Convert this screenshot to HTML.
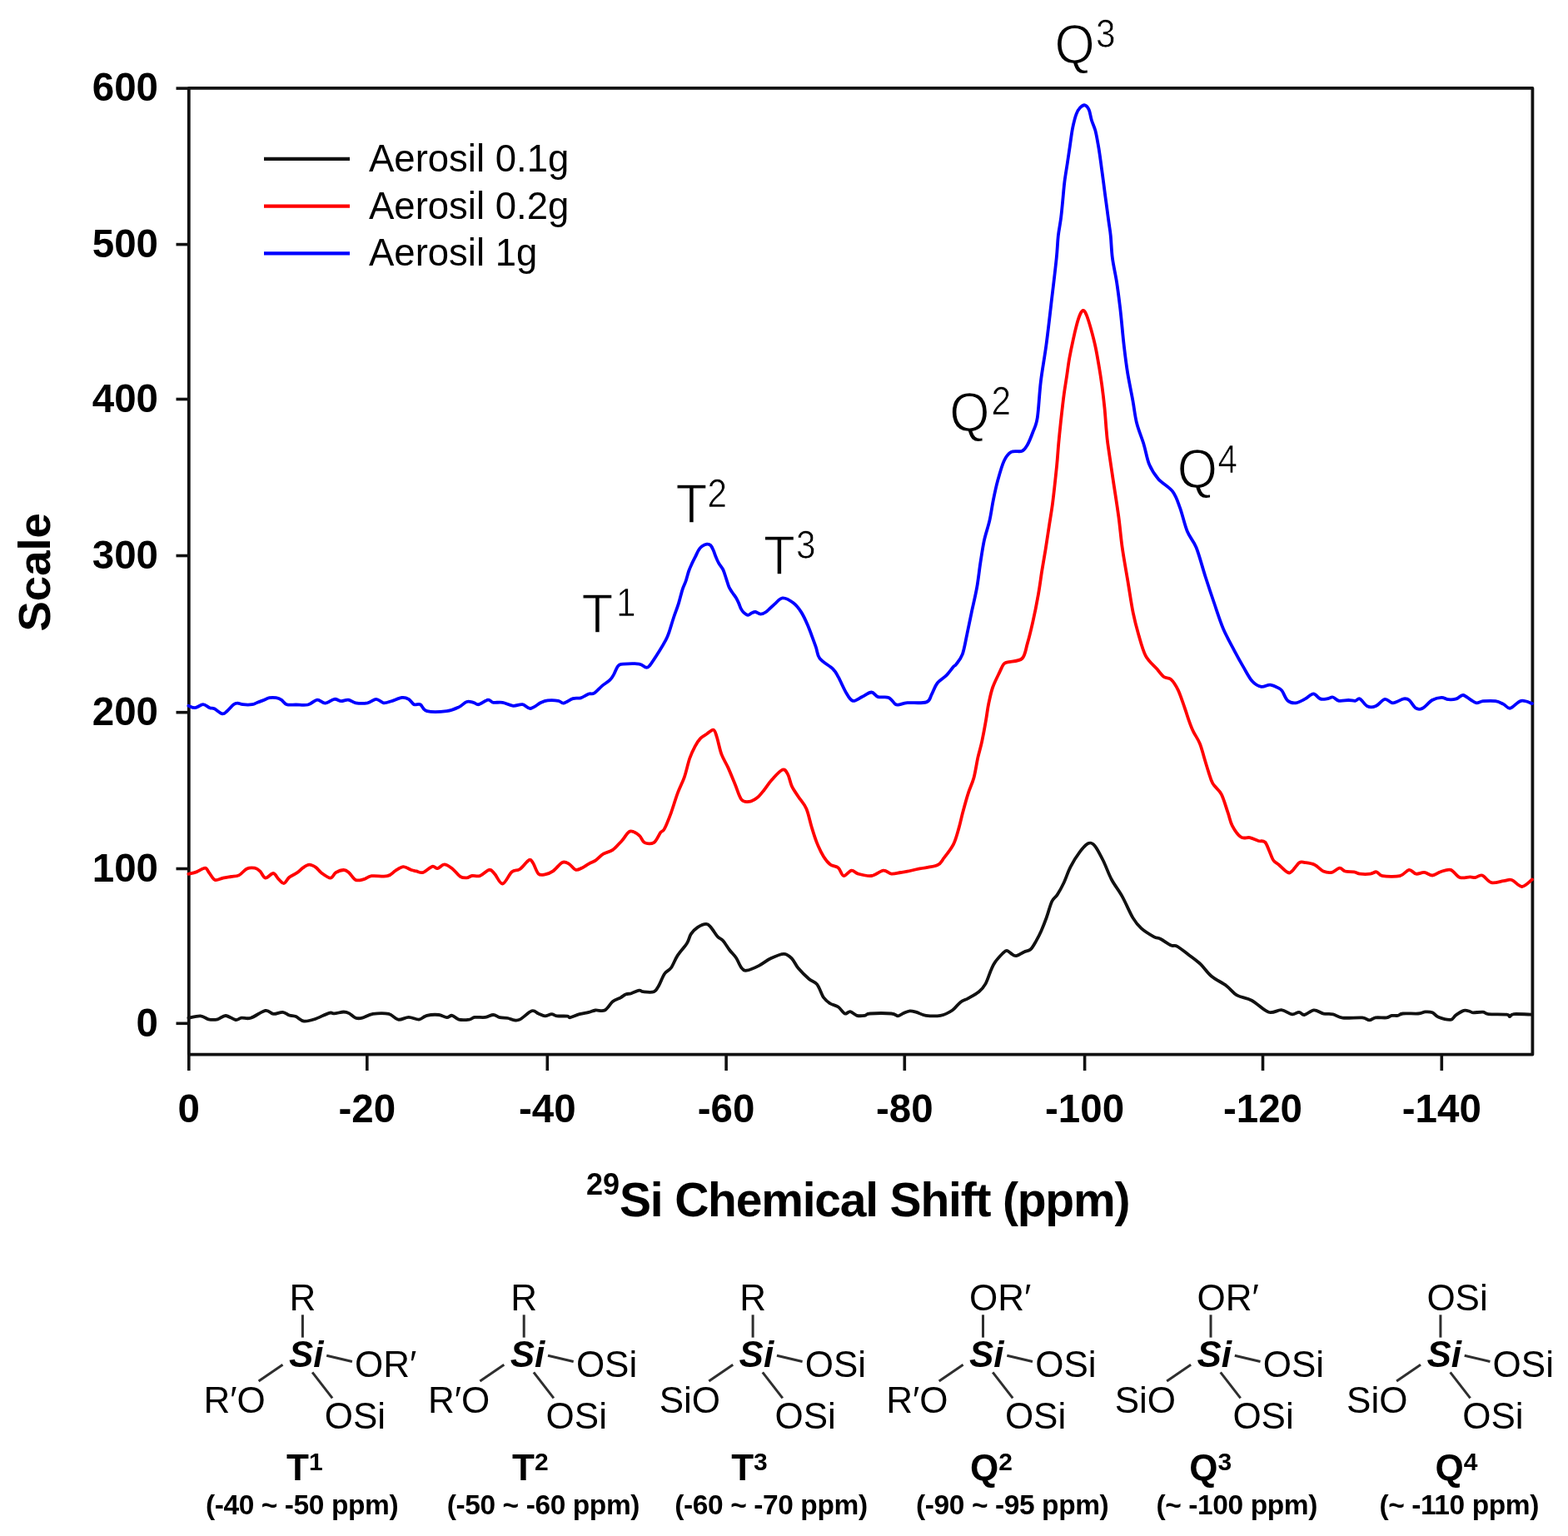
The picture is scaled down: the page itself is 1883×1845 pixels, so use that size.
<!DOCTYPE html>
<html><head><meta charset="utf-8"><title>29Si NMR</title>
<style>
html,body{margin:0;padding:0;background:#fff;}
svg{display:block;}
text{font-family:"Liberation Sans",Arial,sans-serif;fill:#000;}
.tk{font-size:47.5px;font-weight:bold;}
.lg{font-size:45.5px;}
.ax{font-size:57px;font-weight:bold;}
.pk{font-size:62px;stroke:#fff;stroke-width:1.2px;}
.pks{font-size:45px;stroke:#fff;stroke-width:0.7px;}
.st{font-size:44px;}
.si{font-size:44px;font-weight:bold;font-style:italic;}
.lb{font-size:44px;font-weight:bold;}
.lbs{font-size:30px;}
.rg{font-size:33.5px;font-weight:bold;letter-spacing:-0.4px;}
</style></head><body>
<svg width="1883" height="1845" viewBox="0 0 1883 1845">
<rect width="1883" height="1845" fill="#fff"/>
<rect x="226.8" y="105.9" width="1613.6" height="1160.7" fill="none" stroke="#111" stroke-width="3.8" stroke-linejoin="round"/>
<line x1="211.5" y1="1229.3" x2="226.8" y2="1229.3" stroke="#111" stroke-width="3.6"/>
<text class="tk" x="190" y="1244.6" text-anchor="end">0</text>
<line x1="211.5" y1="1043.5" x2="226.8" y2="1043.5" stroke="#111" stroke-width="3.6"/>
<text class="tk" x="190" y="1058.8" text-anchor="end">100</text>
<line x1="211.5" y1="855.7" x2="226.8" y2="855.7" stroke="#111" stroke-width="3.6"/>
<text class="tk" x="190" y="871.0" text-anchor="end">200</text>
<line x1="211.5" y1="667.5" x2="226.8" y2="667.5" stroke="#111" stroke-width="3.6"/>
<text class="tk" x="190" y="682.8" text-anchor="end">300</text>
<line x1="211.5" y1="479.5" x2="226.8" y2="479.5" stroke="#111" stroke-width="3.6"/>
<text class="tk" x="190" y="494.8" text-anchor="end">400</text>
<line x1="211.5" y1="293.6" x2="226.8" y2="293.6" stroke="#111" stroke-width="3.6"/>
<text class="tk" x="190" y="308.9" text-anchor="end">500</text>
<line x1="211.5" y1="106.1" x2="226.8" y2="106.1" stroke="#111" stroke-width="3.6"/>
<text class="tk" x="190" y="121.4" text-anchor="end">600</text>
<line x1="226.8" y1="1266.6" x2="226.8" y2="1286" stroke="#111" stroke-width="3.6"/>
<text class="tk" x="226.8" y="1348" text-anchor="middle">0</text>
<line x1="440.8" y1="1266.6" x2="440.8" y2="1286" stroke="#111" stroke-width="3.6"/>
<text class="tk" x="440.8" y="1348" text-anchor="middle">-20</text>
<line x1="657.3" y1="1266.6" x2="657.3" y2="1286" stroke="#111" stroke-width="3.6"/>
<text class="tk" x="657.3" y="1348" text-anchor="middle">-40</text>
<line x1="872.1" y1="1266.6" x2="872.1" y2="1286" stroke="#111" stroke-width="3.6"/>
<text class="tk" x="872.1" y="1348" text-anchor="middle">-60</text>
<line x1="1086.3" y1="1266.6" x2="1086.3" y2="1286" stroke="#111" stroke-width="3.6"/>
<text class="tk" x="1086.3" y="1348" text-anchor="middle">-80</text>
<line x1="1302.6" y1="1266.6" x2="1302.6" y2="1286" stroke="#111" stroke-width="3.6"/>
<text class="tk" x="1302.6" y="1348" text-anchor="middle">-100</text>
<line x1="1516.5" y1="1266.6" x2="1516.5" y2="1286" stroke="#111" stroke-width="3.6"/>
<text class="tk" x="1516.5" y="1348" text-anchor="middle">-120</text>
<line x1="1731.3" y1="1266.6" x2="1731.3" y2="1286" stroke="#111" stroke-width="3.6"/>
<text class="tk" x="1731.3" y="1348" text-anchor="middle">-140</text>
<path d="M226.4 847.8C227.7 848.2 231.4 850.5 234.3 850.2C237.2 849.9 241.0 846.2 243.9 846.2C246.8 846.2 249.7 849.4 251.9 850.2C254.2 851.1 254.9 850.1 257.4 851.3C259.9 852.5 264.5 856.9 267.0 857.4C269.5 857.9 270.4 856.1 272.6 854.2C274.9 852.3 278.4 847.8 280.5 846.2C282.6 844.6 283.4 844.6 285.3 844.6C287.2 844.6 288.8 845.9 291.7 846.2C294.6 846.5 299.9 846.6 302.8 846.2C305.7 845.8 307.1 844.6 309.2 843.8C311.3 843.0 313.2 842.3 315.6 841.4C318.0 840.5 321.0 838.7 323.6 838.2C326.2 837.7 329.1 837.8 331.5 838.2C333.9 838.6 335.8 839.3 337.9 840.6C340.0 841.9 341.4 845.2 344.3 846.2C347.2 847.2 351.1 846.5 355.4 846.5C359.6 846.5 365.6 847.5 369.8 846.5C374.1 845.5 377.4 840.9 380.9 840.6C384.3 840.3 387.1 844.7 390.5 844.6C393.9 844.5 398.4 840.2 401.6 839.8C404.8 839.4 406.8 842.1 409.6 842.2C412.4 842.3 415.4 840.2 418.3 840.6C421.2 841.0 423.2 843.7 427.1 844.3C431.0 844.9 437.3 845.0 441.4 844.3C445.5 843.5 448.6 839.8 451.8 839.8C455.0 839.8 457.6 843.9 460.6 844.3C463.7 844.7 466.4 843.3 470.1 842.2C473.8 841.1 479.4 838.3 482.9 837.9C486.3 837.5 488.4 838.4 490.8 839.8C493.2 841.2 494.9 845.1 497.2 846.2C499.5 847.3 502.2 844.9 504.8 846.2C507.4 847.5 507.4 852.9 512.7 854.2C518.0 855.5 530.2 855.0 536.6 854.2C543.0 853.4 547.0 851.3 551.0 849.4C555.0 847.5 557.6 843.9 560.5 843.0C563.4 842.1 566.1 843.3 568.5 843.8C570.9 844.3 572.0 846.7 574.9 846.2C577.8 845.7 583.1 841.0 586.0 840.6C588.9 840.2 589.5 843.3 592.4 843.8C595.3 844.3 599.6 843.1 603.6 843.8C607.6 844.5 612.3 847.4 616.3 847.8C620.3 848.2 623.9 845.7 627.4 846.2C630.9 846.7 633.3 851.4 637.0 851.0C640.7 850.6 646.3 845.4 649.8 843.8C653.2 842.2 654.2 841.7 657.7 841.4C661.2 841.1 667.3 841.3 670.5 841.8C673.7 842.3 673.9 845.0 676.8 844.6C679.7 844.2 684.5 840.2 688.0 839.1C691.5 838.0 694.3 839.2 697.5 838.3C700.7 837.4 704.4 834.4 707.1 833.5C709.8 832.6 710.9 834.3 713.5 832.7C716.1 831.1 719.8 826.6 723.0 823.9C726.2 821.2 730.2 819.1 732.6 816.7C735.0 814.3 735.8 812.4 737.4 809.6C739.0 806.8 740.4 802.0 742.2 800.0C744.1 798.0 744.3 798.0 748.5 797.6C752.7 797.2 763.1 796.9 767.6 797.6C772.1 798.3 773.5 801.3 775.6 801.6C777.7 801.9 777.8 802.4 780.4 799.2C783.0 796.0 788.3 787.6 791.5 782.5C794.7 777.4 797.6 772.4 799.6 768.6C801.6 764.9 801.7 764.5 803.3 760.0C804.9 755.5 807.1 747.4 809.1 741.5C811.1 735.6 813.3 730.1 815.0 724.6C816.7 719.1 818.1 712.6 819.5 708.3C820.9 703.9 822.1 702.3 823.4 698.5C824.7 694.7 826.0 689.2 827.3 685.5C828.6 681.8 829.9 679.2 831.2 676.4C832.5 673.6 833.8 671.2 835.1 668.6C836.4 666.0 837.7 662.8 839.0 660.8C840.3 658.8 841.3 657.5 842.9 656.3C844.5 655.1 847.1 653.9 848.8 653.7C850.5 653.5 852.0 653.8 853.3 655.0C854.6 656.2 855.5 658.4 856.6 660.8C857.7 663.2 858.7 666.7 859.8 669.3C860.9 671.9 861.7 673.9 863.1 676.4C864.5 678.9 866.8 681.1 868.3 684.2C869.8 687.4 871.0 691.8 872.2 695.3C873.4 698.8 874.2 702.3 875.4 705.0C876.6 707.7 877.9 709.3 879.3 711.5C880.7 713.7 882.6 715.8 883.9 718.0C885.2 720.2 886.2 722.4 887.2 724.6C888.2 726.8 888.8 729.3 889.8 731.1C890.8 732.9 891.6 734.3 893.0 735.6C894.4 736.9 896.6 738.8 898.2 738.9C899.8 739.0 901.3 736.9 902.8 736.3C904.3 735.6 905.6 734.8 907.3 735.0C909.0 735.2 911.1 737.6 913.2 737.6C915.3 737.6 917.2 737.0 920.0 735.0C922.8 733.0 926.9 728.4 930.2 725.6C933.5 722.8 936.1 718.7 939.8 718.4C943.5 718.1 948.8 721.2 952.5 724.0C956.2 726.8 959.2 730.6 962.1 735.1C965.0 739.6 967.1 744.2 970.0 751.1C972.9 758.0 977.2 770.0 979.6 776.6C982.0 783.2 981.0 786.4 984.4 790.9C987.8 795.4 996.6 799.9 1000.3 803.6C1004.0 807.3 1004.1 808.4 1006.7 813.2C1009.4 818.0 1013.3 827.5 1016.2 832.3C1019.1 837.1 1021.0 841.1 1024.2 841.9C1027.4 842.7 1031.6 838.8 1035.3 837.1C1039.0 835.4 1043.3 831.5 1046.5 831.5C1049.7 831.5 1051.0 836.0 1054.5 837.1C1058.0 838.2 1063.8 836.4 1067.2 837.9C1070.7 839.4 1073.1 844.5 1075.2 845.9C1077.3 847.3 1077.6 846.6 1080.0 846.3C1082.4 846.0 1084.4 844.7 1089.8 844.2C1095.2 843.7 1107.6 845.1 1112.5 843.4C1117.4 841.6 1116.8 837.5 1119.0 833.7C1121.2 829.9 1122.5 824.5 1125.5 820.7C1128.5 816.9 1133.7 814.2 1136.9 810.9C1140.2 807.6 1143.1 803.0 1145.0 800.8C1146.9 798.6 1146.5 800.4 1148.3 797.9C1150.1 795.4 1153.7 791.6 1155.9 785.6C1158.1 779.6 1159.5 770.1 1161.3 761.8C1163.1 753.5 1164.7 745.2 1166.7 735.8C1168.7 726.4 1171.4 715.5 1173.2 705.4C1175.0 695.3 1176.0 684.5 1177.5 675.1C1179.0 665.7 1180.1 657.4 1181.9 649.1C1183.7 640.8 1186.6 633.2 1188.4 625.2C1190.2 617.2 1191.1 609.4 1192.7 601.4C1194.3 593.4 1195.9 585.5 1198.1 577.5C1200.3 569.5 1203.0 559.5 1205.7 553.7C1208.4 547.9 1210.8 544.9 1214.4 542.9C1218.0 540.9 1224.2 543.2 1227.4 541.8C1230.7 540.3 1231.7 538.0 1233.9 534.2C1236.1 530.4 1238.4 524.4 1240.4 519.0C1242.4 513.6 1244.2 511.9 1245.8 501.7C1247.4 491.5 1248.1 472.4 1249.9 457.9C1251.7 443.4 1254.2 430.8 1256.4 414.5C1258.6 398.2 1260.9 377.7 1262.9 360.3C1265.0 342.9 1267.4 322.9 1268.7 310.1C1270.0 297.3 1269.9 291.6 1270.8 283.5C1271.7 275.4 1273.2 269.0 1274.1 261.8C1275.0 254.6 1275.6 247.4 1276.3 240.2C1277.0 233.0 1277.5 225.7 1278.4 218.5C1279.3 211.3 1280.6 204.0 1281.7 196.8C1282.8 189.6 1283.8 182.3 1284.9 175.1C1286.0 167.9 1286.9 159.7 1288.2 153.4C1289.5 147.1 1291.0 141.1 1292.5 137.1C1294.0 133.1 1295.2 131.3 1296.9 129.5C1298.6 127.7 1301.0 125.9 1302.8 126.3C1304.6 126.7 1306.3 128.6 1307.7 131.7C1309.1 134.8 1309.7 140.5 1311.0 144.7C1312.3 148.8 1314.0 151.9 1315.3 156.6C1316.6 161.3 1317.7 168.0 1318.6 172.9C1319.5 177.8 1320.0 181.0 1320.7 185.9C1321.4 190.8 1322.2 196.8 1322.9 202.2C1323.6 207.6 1324.4 213.1 1325.1 218.5C1325.8 223.9 1326.5 229.3 1327.2 234.7C1327.9 240.1 1328.7 245.6 1329.4 251.0C1330.1 256.4 1330.9 261.9 1331.6 267.3C1332.3 272.7 1333.1 276.4 1333.8 283.5C1334.5 290.6 1334.7 300.9 1335.9 310.1C1337.1 319.3 1339.4 328.4 1341.0 338.6C1342.6 348.8 1343.8 358.5 1345.3 371.1C1346.8 383.8 1348.2 401.8 1349.7 414.5C1351.2 427.2 1352.2 435.9 1354.0 447.1C1355.8 458.3 1358.7 471.6 1360.5 481.8C1362.3 492.0 1362.9 499.5 1365.1 508.2C1367.3 516.9 1371.2 525.9 1373.7 534.2C1376.2 542.5 1377.3 551.2 1380.2 558.1C1383.1 565.0 1386.4 570.0 1391.1 575.4C1395.8 580.8 1404.1 584.8 1408.4 590.6C1412.7 596.4 1414.2 602.2 1417.1 610.1C1420.0 618.0 1422.5 630.3 1425.8 638.3C1429.0 646.2 1433.0 648.8 1436.6 657.8C1440.2 666.8 1443.9 681.3 1447.5 692.5C1451.1 703.7 1454.7 714.5 1458.3 725.0C1461.9 735.5 1465.1 746.0 1469.1 755.4C1473.1 764.8 1478.2 773.8 1482.2 781.4C1486.2 789.0 1489.4 794.8 1493.0 800.9C1496.6 807.0 1500.2 814.3 1503.8 818.3C1507.4 822.3 1511.1 824.1 1514.7 824.8C1518.3 825.5 1521.9 822.2 1525.5 822.6C1529.1 823.0 1534.0 825.7 1536.4 827.0C1538.8 828.3 1538.3 828.0 1540.0 830.5C1541.7 833.0 1543.8 839.5 1546.5 841.8C1549.2 844.1 1552.7 844.7 1556.2 844.3C1559.7 843.9 1564.0 841.2 1567.5 839.4C1571.0 837.6 1574.3 833.4 1577.3 833.4C1580.3 833.4 1582.7 838.4 1585.4 839.4C1588.1 840.4 1590.9 839.7 1593.4 839.4C1596.0 839.1 1598.3 837.1 1600.7 837.5C1603.1 837.9 1604.9 841.2 1608.0 841.8C1611.1 842.4 1616.2 841.0 1619.4 841.0C1622.7 841.0 1625.2 842.1 1627.5 841.8C1629.8 841.5 1630.7 838.3 1633.1 839.4C1635.5 840.5 1638.9 846.8 1642.0 848.3C1645.1 849.8 1648.3 849.7 1651.8 848.3C1655.3 846.9 1659.6 840.6 1663.1 839.9C1666.6 839.2 1669.0 844.4 1672.8 844.3C1676.6 844.2 1682.5 839.9 1685.8 839.4C1689.0 838.9 1689.9 839.1 1692.3 841.0C1694.7 842.9 1697.6 849.1 1700.3 850.7C1703.0 852.3 1705.2 852.3 1708.4 850.7C1711.7 849.1 1716.0 843.1 1719.8 841.0C1723.6 838.9 1727.9 837.9 1731.1 837.8C1734.3 837.7 1736.2 839.9 1739.2 840.2C1742.2 840.5 1745.9 840.3 1748.9 839.4C1751.9 838.5 1754.0 834.7 1757.0 835.0C1760.0 835.3 1764.1 839.5 1766.8 841.0C1769.5 842.5 1770.8 844.1 1773.2 844.3C1775.6 844.5 1777.5 842.6 1781.3 842.2C1785.1 841.9 1791.9 841.6 1795.9 842.2C1800.0 842.8 1802.6 844.5 1805.6 845.9C1808.6 847.3 1810.2 851.4 1813.7 850.7C1817.2 850.0 1822.3 842.7 1826.7 841.8C1831.1 840.9 1837.8 844.5 1840.0 845.1" fill="none" stroke="#0000ff" stroke-width="3.8" stroke-linejoin="round" stroke-linecap="round"/>
<path d="M226.4 1049.8C228.0 1049.4 232.6 1048.6 235.9 1047.4C239.2 1046.2 243.8 1042.6 246.3 1042.7C248.8 1042.8 249.1 1045.8 251.1 1048.2C253.1 1050.6 255.4 1055.9 258.2 1057.0C261.0 1058.1 264.6 1055.3 267.8 1054.6C271.0 1053.9 274.2 1053.5 277.4 1053.0C280.6 1052.5 283.7 1053.0 286.9 1051.4C290.1 1049.8 293.3 1045.0 296.5 1043.5C299.7 1042.0 303.4 1042.2 306.0 1042.7C308.6 1043.2 310.3 1044.6 312.4 1046.6C314.5 1048.6 316.1 1054.2 318.8 1054.6C321.5 1055.0 325.7 1048.7 328.3 1049.0C330.9 1049.3 332.6 1054.2 334.7 1056.2C336.8 1058.2 339.0 1061.4 341.1 1061.0C343.2 1060.6 344.8 1055.9 347.4 1053.8C350.0 1051.7 354.3 1050.0 357.0 1048.2C359.7 1046.4 361.0 1044.3 363.4 1042.7C365.8 1041.1 368.6 1038.8 371.3 1038.7C374.0 1038.6 376.9 1040.3 379.3 1041.9C381.7 1043.5 382.8 1046.1 385.7 1048.2C388.6 1050.3 393.9 1054.6 396.8 1054.6C399.7 1054.6 400.5 1049.8 403.2 1048.2C405.9 1046.6 410.1 1045.0 412.8 1045.0C415.5 1045.0 416.7 1046.2 419.1 1048.2C421.5 1050.2 424.2 1055.7 427.1 1057.0C430.0 1058.3 433.5 1057.0 436.7 1056.2C439.9 1055.4 441.4 1052.9 446.2 1052.2C451.0 1051.5 460.5 1053.3 465.3 1052.2C470.1 1051.1 471.7 1047.7 474.9 1045.8C478.1 1043.9 481.3 1041.2 484.5 1041.1C487.7 1041.0 491.4 1044.1 494.0 1045.0C496.6 1045.9 497.7 1045.9 500.0 1046.4C502.3 1046.9 504.8 1048.9 508.0 1048.0C511.2 1047.1 516.2 1041.6 519.1 1040.8C522.0 1040.0 523.1 1043.6 525.5 1043.2C527.9 1042.8 530.6 1038.4 533.5 1038.4C536.4 1038.4 539.8 1040.8 543.0 1043.2C546.2 1045.6 549.7 1050.9 552.6 1052.8C555.5 1054.7 558.1 1054.5 560.5 1054.4C562.9 1054.3 564.2 1052.4 566.9 1052.0C569.6 1051.6 573.0 1053.2 576.5 1052.0C580.0 1050.8 584.7 1045.2 587.6 1044.8C590.5 1044.4 591.3 1046.8 594.0 1049.6C596.7 1052.4 600.1 1061.9 603.6 1061.5C607.1 1061.1 611.2 1050.1 614.7 1047.2C618.2 1044.3 620.8 1046.4 624.3 1044.0C627.8 1041.6 632.8 1034.1 635.4 1032.9C638.0 1031.7 638.3 1034.0 640.2 1036.8C642.1 1039.6 644.2 1047.3 646.6 1049.6C649.0 1051.9 651.6 1050.9 654.5 1050.4C657.4 1049.9 660.6 1048.8 664.1 1046.4C667.6 1044.0 672.0 1037.5 675.2 1036.0C678.4 1034.5 680.5 1036.1 683.2 1037.6C685.9 1039.1 688.6 1044.0 691.2 1044.8C693.9 1045.6 696.5 1043.6 699.1 1042.4C701.8 1041.2 704.4 1039.1 707.1 1037.6C709.8 1036.1 712.2 1035.6 715.1 1033.6C718.0 1031.6 721.2 1027.8 724.6 1025.7C728.0 1023.6 732.1 1023.5 735.8 1020.9C739.5 1018.2 743.4 1013.5 746.9 1009.8C750.4 1006.1 753.0 999.7 756.5 998.6C760.0 997.5 764.7 1001.1 767.6 1003.4C770.5 1005.6 771.1 1010.6 774.0 1012.1C776.9 1013.6 782.0 1014.1 785.2 1012.1C788.4 1010.1 791.0 1003.0 793.1 1000.2C795.2 997.4 795.9 999.4 798.0 995.4C800.1 991.4 803.2 983.5 805.9 976.3C808.5 969.1 811.2 959.6 813.9 952.4C816.6 945.2 819.5 940.2 821.9 933.3C824.3 926.4 826.1 917.1 828.2 911.0C830.3 904.9 832.5 900.6 834.6 896.6C836.7 892.6 838.6 889.6 841.0 887.1C843.4 884.6 846.2 883.2 848.9 881.5C851.5 879.8 854.9 876.0 856.9 876.7C858.9 877.4 859.3 880.6 860.9 885.5C862.5 890.4 864.2 900.1 866.5 906.2C868.8 912.3 871.8 916.3 874.4 922.1C877.0 927.9 879.7 934.8 882.4 941.2C885.1 947.6 887.5 956.8 890.4 960.4C893.3 964.0 896.7 963.2 899.9 962.8C903.1 962.4 906.6 960.3 909.5 958.0C912.4 955.7 914.5 952.8 917.4 949.2C920.3 945.6 923.3 940.6 927.0 936.5C930.7 932.4 936.6 925.6 939.8 924.5C943.0 923.4 944.2 926.8 946.1 930.1C948.0 933.4 948.8 939.9 950.9 944.4C953.0 948.9 956.0 952.7 958.9 957.2C961.8 961.7 965.8 965.4 968.4 971.5C971.0 977.6 972.7 986.9 974.8 993.8C976.9 1000.7 978.8 1007.0 981.2 1012.9C983.6 1018.8 986.5 1024.7 989.1 1028.9C991.8 1033.2 994.2 1036.2 997.1 1038.4C1000.0 1040.7 1004.1 1040.1 1006.7 1042.4C1009.4 1044.7 1010.4 1051.5 1013.0 1052.0C1015.6 1052.5 1019.7 1046.0 1022.6 1045.6C1025.5 1045.2 1026.6 1048.5 1030.6 1049.6C1034.6 1050.7 1041.5 1052.7 1046.5 1052.0C1051.5 1051.3 1056.8 1046.0 1060.8 1045.6C1064.8 1045.2 1067.0 1049.2 1070.4 1049.6C1073.9 1050.0 1078.3 1048.5 1081.5 1048.0C1084.7 1047.5 1086.0 1047.5 1089.8 1046.7C1093.6 1045.9 1098.5 1044.6 1104.4 1043.4C1110.4 1042.2 1120.6 1041.5 1125.5 1039.3C1130.4 1037.1 1130.5 1034.6 1133.7 1030.4C1137.0 1026.2 1142.0 1020.1 1145.0 1014.1C1148.0 1008.1 1149.6 1001.1 1151.5 994.6C1153.4 988.1 1154.5 982.1 1156.4 975.1C1158.3 968.1 1160.7 959.2 1162.9 952.4C1165.1 945.6 1167.5 941.5 1169.4 934.5C1171.3 927.5 1172.7 917.4 1174.3 910.1C1175.9 902.8 1177.6 898.2 1179.2 890.6C1180.8 883.0 1182.8 872.2 1184.1 864.6C1185.4 857.0 1185.9 851.5 1187.3 845.0C1188.7 838.5 1190.0 831.7 1192.2 825.5C1194.4 819.3 1198.1 812.2 1200.3 807.6C1202.5 803.0 1203.6 799.9 1205.2 797.9C1206.8 795.9 1206.3 796.5 1210.0 795.4C1213.7 794.2 1223.4 794.8 1227.4 791.0C1231.4 787.2 1231.7 780.0 1233.9 772.6C1236.1 765.2 1238.2 756.4 1240.4 746.6C1242.6 736.9 1245.1 724.2 1246.9 714.1C1248.7 704.0 1249.8 694.9 1251.2 685.9C1252.7 676.9 1254.1 668.9 1255.6 659.9C1257.0 650.9 1258.5 641.1 1259.9 631.7C1261.3 622.3 1262.7 615.4 1264.2 603.5C1265.7 591.6 1267.8 571.8 1269.0 560.1C1270.2 548.4 1270.3 543.4 1271.2 533.5C1272.1 523.6 1273.4 510.9 1274.5 501.0C1275.6 491.1 1276.6 482.0 1277.7 473.9C1278.8 465.8 1279.9 459.4 1281.0 452.2C1282.1 445.0 1282.9 437.7 1284.2 430.5C1285.5 423.3 1287.1 415.5 1288.6 408.8C1290.0 402.1 1291.5 395.6 1292.9 390.4C1294.3 385.2 1295.9 380.3 1297.2 377.4C1298.5 374.5 1299.7 372.8 1301.0 373.0C1302.3 373.2 1303.2 374.6 1304.8 378.4C1306.3 382.2 1308.5 389.3 1310.3 395.8C1312.1 402.3 1314.1 409.9 1315.7 417.5C1317.3 425.1 1318.7 433.7 1320.0 441.3C1321.3 448.9 1322.2 454.9 1323.3 463.0C1324.4 471.1 1325.6 481.1 1326.5 490.2C1327.4 499.2 1328.0 510.1 1328.7 517.3C1329.4 524.5 1329.0 523.5 1330.4 533.5C1331.8 543.5 1334.7 563.0 1336.9 577.6C1339.1 592.2 1341.6 607.6 1343.4 621.0C1345.2 634.4 1345.9 645.1 1347.7 657.8C1349.5 670.4 1352.0 683.9 1354.2 696.9C1356.4 709.9 1358.5 725.1 1360.7 735.9C1362.9 746.7 1364.7 753.2 1367.2 761.9C1369.7 770.6 1372.3 781.0 1375.9 787.9C1379.5 794.8 1385.3 798.9 1388.9 803.1C1392.5 807.3 1394.7 810.7 1397.6 812.9C1400.5 815.1 1403.4 813.4 1406.3 816.1C1409.2 818.8 1412.2 823.5 1414.9 829.1C1417.6 834.8 1420.4 843.9 1422.6 850.0C1424.8 856.1 1426.1 860.8 1427.8 865.6C1429.5 870.4 1430.8 874.1 1433.0 878.6C1435.2 883.1 1438.6 887.7 1440.8 892.9C1443.0 898.1 1444.3 904.1 1446.0 909.8C1447.7 915.4 1449.5 921.6 1451.2 926.8C1452.9 932.0 1453.8 936.5 1456.4 941.1C1459.0 945.7 1463.8 948.2 1466.8 954.1C1469.8 960.0 1472.4 969.9 1474.6 976.2C1476.8 982.5 1477.2 986.9 1479.8 991.8C1482.4 996.7 1486.8 1003.1 1490.3 1005.5C1493.8 1007.9 1497.2 1005.4 1500.7 1006.1C1504.2 1006.9 1508.1 1009.1 1511.1 1010.0C1514.1 1010.9 1516.7 1009.3 1518.9 1011.3C1521.1 1013.2 1522.4 1018.0 1524.1 1021.7C1525.8 1025.4 1527.3 1030.7 1529.3 1033.5C1531.2 1036.3 1533.0 1036.3 1535.8 1038.7C1538.6 1041.1 1543.6 1046.5 1546.2 1047.8C1548.8 1049.1 1549.0 1048.5 1551.4 1046.5C1553.8 1044.5 1557.9 1037.8 1560.5 1036.1C1563.1 1034.4 1564.0 1035.7 1567.0 1036.1C1570.0 1036.5 1575.0 1037.0 1578.7 1038.7C1582.4 1040.4 1585.6 1045.0 1589.1 1046.5C1592.6 1048.0 1596.2 1048.5 1599.5 1047.8C1602.8 1047.1 1606.1 1042.8 1608.7 1042.6C1611.3 1042.4 1612.3 1045.7 1615.2 1046.5C1618.1 1047.3 1623.1 1046.8 1626.1 1047.3C1629.1 1047.8 1630.1 1049.3 1633.4 1049.7C1636.7 1050.1 1642.4 1050.1 1645.7 1049.7C1649.0 1049.3 1650.6 1046.9 1653.0 1047.3C1655.4 1047.7 1655.6 1051.3 1660.3 1052.1C1665.0 1052.9 1675.8 1053.3 1681.1 1052.1C1686.4 1050.9 1688.8 1045.2 1692.1 1044.8C1695.3 1044.4 1697.5 1049.2 1700.6 1049.7C1703.6 1050.2 1707.1 1047.6 1710.4 1047.9C1713.7 1048.2 1717.0 1051.6 1720.2 1051.5C1723.5 1051.4 1726.2 1048.4 1729.9 1047.3C1733.6 1046.2 1738.2 1043.7 1742.1 1044.8C1746.0 1045.9 1749.2 1052.6 1753.1 1054.0C1757.0 1055.4 1762.3 1053.4 1765.4 1053.4C1768.5 1053.4 1769.1 1054.3 1771.5 1054.0C1773.9 1053.7 1776.8 1050.5 1780.0 1051.5C1783.2 1052.5 1786.7 1059.0 1791.0 1060.1C1795.3 1061.2 1801.6 1058.7 1805.7 1058.2C1809.8 1057.7 1811.7 1055.9 1815.4 1057.0C1819.1 1058.1 1823.6 1065.1 1827.7 1065.0C1831.8 1064.9 1838.0 1057.8 1840.0 1056.4" fill="none" stroke="#ff0000" stroke-width="3.8" stroke-linejoin="round" stroke-linecap="round"/>
<path d="M226.4 1222.7C228.8 1222.3 236.7 1220.0 240.7 1220.3C244.7 1220.6 246.9 1223.6 250.3 1224.3C253.8 1225.0 257.9 1225.0 261.4 1224.3C264.8 1223.6 267.4 1219.9 271.0 1220.0C274.6 1220.1 279.7 1224.5 282.9 1225.0C286.1 1225.5 287.1 1223.1 290.1 1222.7C293.2 1222.3 296.4 1224.2 301.2 1222.7C306.0 1221.2 314.3 1214.7 318.8 1213.9C323.3 1213.1 324.9 1217.6 328.3 1217.9C331.8 1218.2 336.3 1215.5 339.5 1215.8C342.7 1216.1 344.8 1218.6 347.4 1219.5C350.0 1220.4 352.5 1219.9 355.4 1221.1C358.3 1222.3 361.3 1226.1 365.0 1226.6C368.7 1227.1 372.7 1225.9 377.7 1224.3C382.7 1222.7 391.2 1217.9 395.2 1216.8C399.2 1215.7 398.7 1217.6 401.6 1217.4C404.5 1217.2 409.9 1215.5 412.8 1215.5C415.7 1215.5 416.7 1215.9 419.1 1217.1C421.5 1218.3 424.4 1221.8 427.1 1222.7C429.8 1223.6 431.7 1223.5 435.1 1222.7C438.6 1221.9 442.5 1218.7 447.8 1217.9C453.1 1217.1 461.8 1216.8 466.9 1217.9C471.9 1219.0 474.1 1224.0 478.1 1224.7C482.1 1225.4 486.6 1221.9 490.8 1221.9C495.0 1221.9 499.5 1224.9 503.2 1224.6C506.9 1224.2 508.7 1220.7 512.7 1219.8C516.7 1218.9 523.1 1218.6 527.1 1219.0C531.1 1219.4 534.0 1222.1 536.6 1222.2C539.2 1222.3 540.6 1219.4 543.0 1219.8C545.4 1220.2 547.5 1223.8 551.0 1224.6C554.5 1225.4 560.5 1225.0 563.7 1224.6C566.9 1224.1 566.9 1222.4 570.1 1221.9C573.3 1221.5 579.1 1222.4 582.8 1221.9C586.5 1221.4 589.5 1219.0 592.4 1219.0C595.3 1219.0 597.5 1221.5 600.4 1222.2C603.3 1222.9 607.2 1222.5 609.9 1223.0C612.5 1223.5 613.9 1224.8 616.3 1225.1C618.7 1225.4 620.6 1226.4 624.3 1224.6C628.0 1222.8 634.9 1215.5 638.6 1214.3C642.3 1213.1 644.0 1216.5 646.6 1217.5C649.2 1218.5 651.9 1220.2 654.5 1220.3C657.1 1220.4 660.1 1218.2 662.5 1218.2C664.9 1218.2 665.7 1219.9 668.9 1220.3C672.1 1220.7 679.0 1220.3 681.6 1220.6C684.2 1220.9 682.4 1222.6 684.8 1222.2C687.2 1221.8 692.3 1219.2 696.0 1218.2C699.7 1217.2 703.9 1216.7 707.1 1215.9C710.3 1215.1 711.9 1213.9 715.1 1213.5C718.3 1213.1 722.8 1215.2 726.2 1213.5C729.7 1211.8 732.6 1205.6 735.8 1203.1C739.0 1200.6 742.6 1199.8 745.3 1198.3C747.9 1196.8 749.6 1195.1 751.7 1194.3C753.8 1193.5 755.5 1194.0 758.1 1193.2C760.8 1192.4 765.2 1189.9 767.6 1189.6C770.0 1189.3 769.5 1190.9 772.4 1191.2C775.3 1191.5 782.0 1192.5 785.2 1191.2C788.4 1189.9 789.4 1186.8 791.5 1183.2C793.6 1179.6 795.6 1173.2 798.0 1169.7C800.4 1166.2 803.2 1166.2 805.9 1162.5C808.5 1158.8 810.7 1152.3 813.9 1147.4C817.1 1142.5 822.4 1137.2 825.0 1133.0C827.6 1128.8 827.7 1125.1 829.8 1121.9C831.9 1118.7 834.8 1115.9 837.8 1113.9C840.8 1111.9 845.5 1109.9 848.1 1109.9C850.8 1109.9 851.4 1111.4 853.7 1113.9C856.0 1116.4 859.3 1122.3 861.7 1125.0C864.1 1127.7 865.7 1127.1 868.1 1129.8C870.5 1132.5 873.4 1137.5 876.0 1141.0C878.6 1144.5 881.6 1146.9 884.0 1150.5C886.4 1154.1 888.3 1160.0 890.4 1162.5C892.5 1165.0 893.2 1166.1 896.7 1165.7C900.2 1165.3 906.3 1162.5 911.1 1160.1C915.9 1157.7 920.4 1153.7 925.4 1151.3C930.4 1148.9 937.0 1145.8 941.3 1145.8C945.5 1145.8 948.0 1148.4 950.9 1151.3C953.8 1154.2 955.4 1159.2 958.9 1163.3C962.4 1167.4 967.9 1172.8 971.6 1176.0C975.3 1179.2 978.3 1178.7 981.2 1182.4C984.1 1186.1 986.5 1194.5 989.1 1198.3C991.8 1202.1 994.2 1203.6 997.1 1205.5C1000.0 1207.4 1003.8 1207.5 1006.7 1209.5C1009.6 1211.5 1012.2 1216.6 1014.6 1217.5C1017.0 1218.4 1018.6 1214.7 1021.0 1215.1C1023.4 1215.5 1026.1 1219.0 1029.0 1219.8C1031.9 1220.6 1035.8 1220.2 1038.5 1219.8C1041.2 1219.4 1039.6 1217.9 1044.9 1217.5C1050.2 1217.1 1064.8 1217.0 1070.4 1217.5C1076.0 1218.0 1076.0 1220.4 1078.4 1220.3C1080.8 1220.2 1082.6 1218.0 1085.0 1217.0C1087.4 1216.0 1090.1 1214.5 1092.7 1214.3C1095.3 1214.1 1097.5 1215.0 1100.7 1215.9C1103.9 1216.8 1107.1 1219.2 1111.9 1219.8C1116.7 1220.4 1124.1 1220.8 1129.4 1219.8C1134.7 1218.8 1139.7 1216.2 1143.7 1213.5C1147.7 1210.8 1150.1 1206.3 1153.3 1203.9C1156.5 1201.5 1159.1 1201.2 1162.8 1199.1C1166.5 1197.0 1172.1 1194.1 1175.6 1191.2C1179.1 1188.3 1181.2 1185.8 1183.6 1181.6C1186.0 1177.3 1188.1 1170.0 1189.9 1165.7C1191.8 1161.5 1192.3 1159.5 1194.7 1156.1C1197.1 1152.6 1201.9 1147.4 1204.3 1145.0C1206.7 1142.6 1207.4 1141.8 1209.0 1141.8C1210.6 1141.8 1211.9 1143.9 1213.8 1145.0C1215.7 1146.1 1217.5 1148.5 1220.2 1148.2C1222.9 1147.9 1226.9 1144.7 1229.8 1143.4C1232.7 1142.1 1235.3 1142.3 1237.7 1140.2C1240.1 1138.1 1242.0 1134.3 1244.1 1130.6C1246.2 1126.9 1248.4 1122.7 1250.5 1117.9C1252.6 1113.1 1254.7 1107.8 1256.8 1102.0C1258.9 1096.2 1261.1 1087.3 1263.2 1082.8C1265.3 1078.3 1267.2 1078.6 1269.6 1074.9C1272.0 1071.2 1274.8 1066.1 1277.5 1060.5C1280.2 1054.9 1282.3 1047.6 1285.5 1041.4C1288.7 1035.2 1293.1 1028.0 1296.7 1023.3C1300.3 1018.6 1303.9 1014.4 1306.9 1013.1C1309.9 1011.8 1311.5 1012.3 1314.5 1015.7C1317.5 1019.1 1321.3 1026.7 1324.7 1033.5C1328.1 1040.3 1331.1 1049.3 1334.9 1056.5C1338.7 1063.7 1343.5 1069.2 1347.7 1076.9C1352.0 1084.6 1356.6 1096.0 1360.4 1102.4C1364.2 1108.8 1366.3 1111.3 1370.6 1115.1C1374.8 1118.9 1382.1 1123.2 1385.9 1125.3C1389.7 1127.4 1390.1 1126.1 1393.5 1127.8C1396.9 1129.5 1402.9 1134.0 1406.3 1135.5C1409.7 1137.0 1410.1 1134.7 1413.9 1136.8C1417.7 1138.9 1424.5 1144.6 1429.2 1148.2C1433.9 1151.8 1437.8 1154.4 1442.0 1158.4C1446.2 1162.5 1449.6 1168.2 1454.7 1172.5C1459.8 1176.8 1467.5 1180.1 1472.6 1183.9C1477.7 1187.7 1480.2 1192.4 1485.3 1195.4C1490.4 1198.4 1496.8 1198.4 1503.2 1201.8C1509.6 1205.2 1517.6 1213.9 1523.5 1215.8C1529.4 1217.7 1534.1 1212.8 1538.8 1213.2C1543.5 1213.6 1548.1 1217.9 1551.6 1218.3C1555.1 1218.7 1557.5 1215.7 1560.0 1215.8C1562.5 1215.9 1563.4 1219.4 1566.4 1219.0C1569.4 1218.6 1574.1 1213.5 1577.9 1213.3C1581.7 1213.1 1585.6 1216.8 1589.4 1217.6C1593.2 1218.4 1597.1 1217.5 1600.9 1218.3C1604.7 1219.1 1606.5 1221.9 1612.3 1222.6C1618.1 1223.3 1630.6 1221.9 1635.9 1222.4C1641.2 1222.9 1641.8 1225.4 1644.4 1225.4C1647.1 1225.4 1648.3 1222.9 1651.8 1222.4C1655.3 1221.9 1662.0 1222.8 1665.2 1222.4C1668.5 1222.0 1669.1 1220.3 1671.3 1219.9C1673.5 1219.5 1676.4 1220.3 1678.6 1219.9C1680.8 1219.5 1680.6 1217.9 1684.7 1217.5C1688.8 1217.1 1698.6 1217.8 1703.1 1217.5C1707.6 1217.2 1708.8 1215.6 1711.6 1215.4C1714.4 1215.2 1717.5 1215.2 1720.2 1216.3C1722.9 1217.4 1723.8 1220.4 1727.5 1221.8C1731.2 1223.2 1738.6 1225.2 1742.1 1224.8C1745.6 1224.4 1745.6 1221.1 1748.3 1219.3C1751.0 1217.5 1755.2 1214.5 1758.0 1213.8C1760.8 1213.1 1763.6 1214.6 1765.4 1215.0C1767.2 1215.4 1766.4 1216.2 1769.0 1216.3C1771.6 1216.4 1778.2 1215.4 1781.2 1215.7C1784.2 1216.0 1782.6 1217.6 1787.3 1218.1C1792.0 1218.6 1805.0 1218.2 1809.3 1218.7C1813.6 1219.2 1811.6 1221.2 1813.0 1221.1C1814.4 1221.0 1813.4 1218.5 1817.9 1218.1C1822.4 1217.7 1836.3 1218.6 1840.0 1218.7" fill="none" stroke="#111111" stroke-width="3.8" stroke-linejoin="round" stroke-linecap="round"/>
<line x1="317" y1="190.8" x2="420" y2="190.8" stroke="#111111" stroke-width="4.2"/>
<text class="lg" x="443" y="205.7">Aerosil 0.1g</text>
<line x1="317" y1="247.6" x2="420" y2="247.6" stroke="#ff0000" stroke-width="4.2"/>
<text class="lg" x="443" y="262.5">Aerosil 0.2g</text>
<line x1="317" y1="304.4" x2="420" y2="304.4" stroke="#0000ff" stroke-width="4.2"/>
<text class="lg" x="443" y="319.3">Aerosil 1g</text>
<text class="ax" x="60.4" y="687.3" text-anchor="middle" style="font-size:54.5px" transform="rotate(-90 60.4 687.3)">Scale</text>
<text class="ax" x="704" y="1461"><tspan font-size="36" dy="-26">29</tspan><tspan dy="26" letter-spacing="-1.2">Si Chemical Shift (ppm)</tspan></text>
<text class="pk" transform="translate(1266.5 75.5) scale(1 1.09)">Q</text><text class="pks" transform="translate(1316.0 57.2) scale(0.94 1.07)">3</text>
<text class="pk" transform="translate(1140.3 517.6) scale(1 1.09)">Q</text><text class="pks" transform="translate(1190.5 498.4) scale(0.94 1.07)">2</text>
<text class="pk" transform="translate(1413.8 586.2) scale(1 1.09)">Q</text><text class="pks" transform="translate(1462.5 568.0) scale(0.94 1.07)">4</text>
<text class="pk" transform="translate(698.5 759.7) scale(1 1.09)">T</text><text class="pks" transform="translate(740.0 740.2) scale(0.94 1.07)">1</text>
<text class="pk" transform="translate(811.6 628.0) scale(1 1.09)">T</text><text class="pks" transform="translate(849.5 609.3) scale(0.94 1.07)">2</text>
<text class="pk" transform="translate(917.0 690.0) scale(1 1.09)">T</text><text class="pks" transform="translate(956.0 671.3) scale(0.94 1.07)">3</text>
<g stroke="#2e2e2e" stroke-width="3" stroke-linecap="butt"><line x1="363.4" y1="1579.3" x2="363.4" y2="1606.6"/><line x1="392.2" y1="1628.3" x2="422.9" y2="1635.5"/><line x1="339.5" y1="1639.3" x2="310.6" y2="1659.0"/><line x1="375.1" y1="1648.4" x2="399.1" y2="1679.4"/></g>
<text class="st" x="347.5" y="1574">R</text>
<text class="si" x="346.9" y="1641.6">Si</text>
<text class="st" x="426.1" y="1654.3">OR′</text>
<text class="st" x="318.7" y="1697.2" text-anchor="end">R′O</text>
<text class="st" x="389.8" y="1715.6">OSi</text>
<text class="lb" x="344.1" y="1778.3">T<tspan class="lbs" dy="-12">1</tspan></text>
<text class="rg" x="246.9" y="1818.6">(-40 ~ -50 ppm)</text>
<g stroke="#2e2e2e" stroke-width="3" stroke-linecap="butt"><line x1="629.2" y1="1579.3" x2="629.2" y2="1606.6"/><line x1="658.0" y1="1628.3" x2="688.7" y2="1635.5"/><line x1="605.3" y1="1639.3" x2="576.4" y2="1659.0"/><line x1="640.9" y1="1648.4" x2="664.9" y2="1679.4"/></g>
<text class="st" x="613.3" y="1574">R</text>
<text class="si" x="612.7" y="1641.6">Si</text>
<text class="st" x="691.9" y="1654.3">OSi</text>
<text class="st" x="588.2" y="1697.2" text-anchor="end">R′O</text>
<text class="st" x="655.6" y="1715.6">OSi</text>
<text class="lb" x="615.0" y="1778.3">T<tspan class="lbs" dy="-12">2</tspan></text>
<text class="rg" x="536.7" y="1818.6">(-50 ~ -60 ppm)</text>
<g stroke="#2e2e2e" stroke-width="3" stroke-linecap="butt"><line x1="904.1" y1="1579.3" x2="904.1" y2="1606.6"/><line x1="932.9" y1="1628.3" x2="963.6" y2="1635.5"/><line x1="880.2" y1="1639.3" x2="851.3" y2="1659.0"/><line x1="915.8" y1="1648.4" x2="939.8" y2="1679.4"/></g>
<text class="st" x="888.2" y="1574">R</text>
<text class="si" x="887.6" y="1641.6">Si</text>
<text class="st" x="966.8" y="1654.3">OSi</text>
<text class="st" x="865.1" y="1697.2" text-anchor="end">SiO</text>
<text class="st" x="930.5" y="1715.6">OSi</text>
<text class="lb" x="878.2" y="1778.3">T<tspan class="lbs" dy="-12">3</tspan></text>
<text class="rg" x="810.3" y="1818.6">(-60 ~ -70 ppm)</text>
<g stroke="#2e2e2e" stroke-width="3" stroke-linecap="butt"><line x1="1180.5" y1="1579.3" x2="1180.5" y2="1606.6"/><line x1="1209.3" y1="1628.3" x2="1240.0" y2="1635.5"/><line x1="1156.6" y1="1639.3" x2="1127.7" y2="1659.0"/><line x1="1192.2" y1="1648.4" x2="1216.2" y2="1679.4"/></g>
<text class="st" x="1164.0" y="1574">OR′</text>
<text class="si" x="1164.0" y="1641.6">Si</text>
<text class="st" x="1243.2" y="1654.3">OSi</text>
<text class="st" x="1138.5" y="1697.2" text-anchor="end">R′O</text>
<text class="st" x="1206.9" y="1715.6">OSi</text>
<text class="lb" x="1165.0" y="1778.3">Q<tspan class="lbs" dy="-12">2</tspan></text>
<text class="rg" x="1100.0" y="1818.6">(-90 ~ -95 ppm)</text>
<g stroke="#2e2e2e" stroke-width="3" stroke-linecap="butt"><line x1="1454.0" y1="1579.3" x2="1454.0" y2="1606.6"/><line x1="1482.8" y1="1628.3" x2="1513.5" y2="1635.5"/><line x1="1430.1" y1="1639.3" x2="1401.2" y2="1659.0"/><line x1="1465.7" y1="1648.4" x2="1489.7" y2="1679.4"/></g>
<text class="st" x="1437.5" y="1574">OR′</text>
<text class="si" x="1437.5" y="1641.6">Si</text>
<text class="st" x="1516.7" y="1654.3">OSi</text>
<text class="st" x="1412.0" y="1697.2" text-anchor="end">SiO</text>
<text class="st" x="1480.4" y="1715.6">OSi</text>
<text class="lb" x="1428.2" y="1778.3">Q<tspan class="lbs" dy="-12">3</tspan></text>
<text class="rg" x="1388.5" y="1818.6">(~ -100 ppm)</text>
<g stroke="#2e2e2e" stroke-width="3" stroke-linecap="butt"><line x1="1729.9" y1="1579.3" x2="1729.9" y2="1606.6"/><line x1="1758.7" y1="1628.3" x2="1789.4" y2="1635.5"/><line x1="1706.0" y1="1639.3" x2="1677.1" y2="1659.0"/><line x1="1741.6" y1="1648.4" x2="1765.6" y2="1679.4"/></g>
<text class="st" x="1713.4" y="1574">OSi</text>
<text class="si" x="1713.4" y="1641.6">Si</text>
<text class="st" x="1792.6" y="1654.3">OSi</text>
<text class="st" x="1690.4" y="1697.2" text-anchor="end">SiO</text>
<text class="st" x="1756.3" y="1715.6">OSi</text>
<text class="lb" x="1723.4" y="1778.3">Q<tspan class="lbs" dy="-12">4</tspan></text>
<text class="rg" x="1656.4" y="1818.6">(~ -110 ppm)</text>
</svg>
</body></html>
